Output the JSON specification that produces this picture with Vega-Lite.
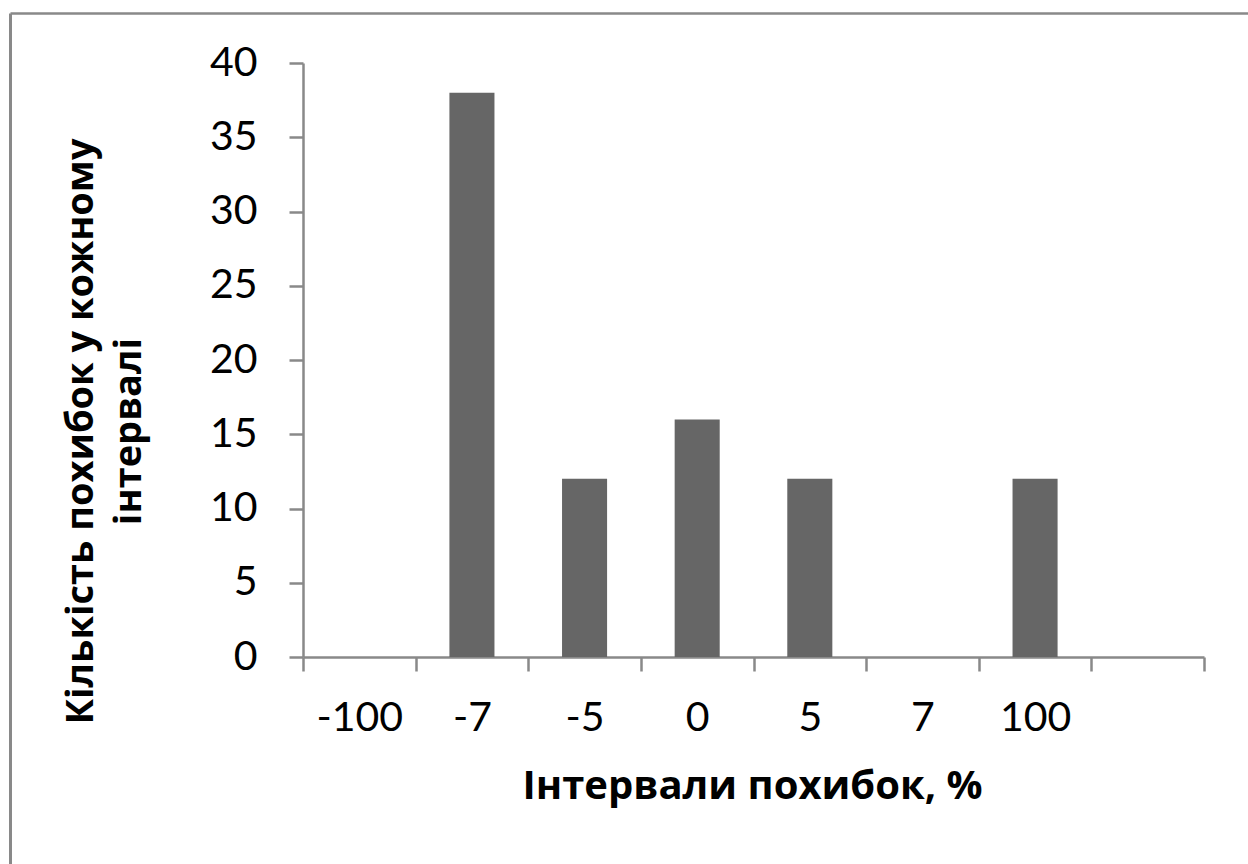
{
  "$schema": "https://vega.github.io/schema/vega-lite/v6.json",
  "autosize": {"type": "none"},
  "padding": {"left": 10, "top": 13, "right": 0, "bottom": 0},
  "width": 1238,
  "height": 851,
  "background": "white",
  "config": {
    "view": {"stroke": null},
    "font": "Lato, Open Sans, sans-serif",
    "axis": {
      "labelFont": "Lato, Open Sans, sans-serif",
      "titleFont": "Open Sans, sans-serif",
      "labelColor": "#000000",
      "titleColor": "#000000",
      "grid": false
    }
  },
  "layer": [
    {
      "data": {
        "values": [
          {"interval": "-100", "count": 0},
          {"interval": "-7", "count": 38},
          {"interval": "-5", "count": 12},
          {"interval": "0", "count": 16},
          {"interval": "5", "count": 12},
          {"interval": "7", "count": 0},
          {"interval": "100", "count": 12},
          {"interval": " ", "count": 0}
        ]
      },
      "mark": {"type": "bar", "color": "#666666", "width": {"band": 0.4}},
      "encoding": {
        "x": {
          "field": "interval",
          "type": "nominal",
          "sort": null,
          "scale": {"type": "band", "range": [293, 1194], "paddingInner": 0, "paddingOuter": 0},
          "axis": {
            "orient": "bottom",
            "offset": -207,
            "tickBand": "extent",
            "labelAngle": 0,
            "labelFontSize": 41,
            "labelPadding": 27,
            "tickSize": 14,
            "tickColor": "#898989",
            "tickWidth": 2.5,
            "domainColor": "#898989",
            "domainWidth": 2.5,
            "title": "Інтервали похибок, %",
            "titleFontSize": 40,
            "titleFontWeight": "bold",
            "titleX": 742,
            "titleY": 141,
            "titleAlign": "center",
            "titleBaseline": "alphabetic"
          }
        },
        "y": {
          "field": "count",
          "type": "quantitative",
          "scale": {"domain": [0, 40], "range": [644, 50], "nice": false, "zero": false},
          "axis": {
            "orient": "left",
            "offset": -293,
            "values": [0, 5, 10, 15, 20, 25, 30, 35, 40],
            "labelFontSize": 41,
            "labelPadding": 32,
            "tickSize": 14,
            "tickColor": "#898989",
            "tickWidth": 2.5,
            "domainColor": "#898989",
            "domainWidth": 2.5,
            "title": ["Кількість похибок у кожному", "інтервалі"],
            "titleFontSize": 38,
            "titleFontWeight": "bold",
            "titleAngle": -90,
            "titleX": -222,
            "titleY": 418,
            "titleAlign": "center",
            "titleBaseline": "middle",
            "titleLineHeight": 48
          }
        },
        "y2": {"datum": 0}
      }
    },
    {
      "data": {"values": [{"v": 0}, {"v": 1}]},
      "mark": {"type": "point", "opacity": 0},
      "encoding": {
        "x": {
          "field": "v",
          "type": "quantitative",
          "scale": {"domain": [0, 1], "nice": false},
          "axis": {"orient": "top", "labels": false, "ticks": false, "title": null, "domainColor": "#898989", "domainWidth": 2.5}
        },
        "y": {
          "field": "v",
          "type": "quantitative",
          "scale": {"domain": [0, 1], "nice": false},
          "axis": {"orient": "left", "labels": false, "ticks": false, "title": null, "domainColor": "#898989", "domainWidth": 3}
        }
      }
    }
  ],
  "resolve": {
    "scale": {"x": "independent", "y": "independent"},
    "axis": {"x": "independent", "y": "independent"}
  }
}
